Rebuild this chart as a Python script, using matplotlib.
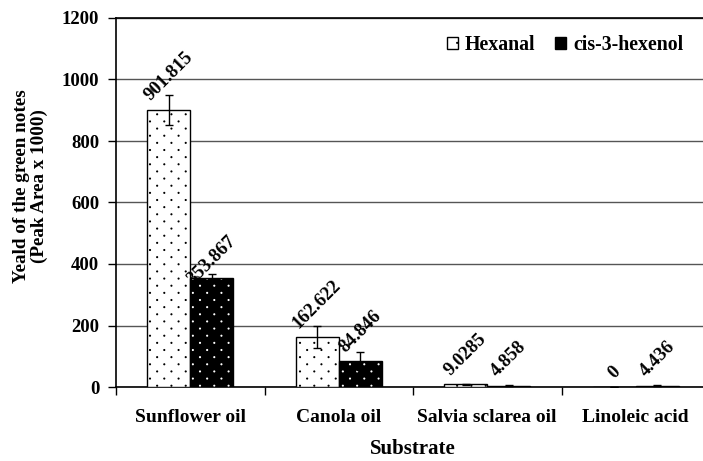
import matplotlib
matplotlib.use("Agg")
import matplotlib.pyplot as plt
import matplotlib.hatch as mhatch
from matplotlib.path import Path
import numpy as np
from matplotlib.patches import Patch

categories = ["Sunflower oil", "Canola oil", "Salvia sclarea oil", "Linoleic acid"]
hexanal = [901.815, 162.622, 9.0285, 0]
cis3 = [353.867, 84.846, 4.858, 4.436]
hexanal_err = [49, 35, 2, 0]
cis3_err = [13, 29, 1.5, 1.5]
hexanal_labels = ["901.815", "162.622", "9.0285", "0"]
cis3_labels = ["353.867", "84.846", "4.858", "4.436"]
yticks = [0, 200, 400, 600, 800, 1000, 1200]


# Sparse staggered dot hatch (Excel-like "dotted" fill) replacing '.'
class StaggeredDots(mhatch.HatchPatternBase):
    cols = 7
    rows = 14
    radius = 0.005

    def __init__(self, hatch, density):
        n = hatch.count('.')
        self.active = n > 0
        circ = Path.unit_circle()
        self.shape_vertices = circ.vertices
        self.shape_codes = circ.codes
        if not self.active:
            self.num_vertices = 0
            return
        nshapes = 0
        for r in range(self.rows + 1):
            nshapes += (self.cols + 1) if r % 2 == 0 else self.cols
        self.num_vertices = nshapes * len(self.shape_vertices)

    def set_vertices_and_codes(self, vertices, codes):
        sv = self.shape_vertices * self.radius
        vparts, cparts = [], []
        for r in range(self.rows + 1):
            if r % 2 == 0:
                cs = np.arange(self.cols + 1) / self.cols
            else:
                cs = (np.arange(self.cols) + 0.5) / self.cols
            yp = r / self.rows
            for c in cs:
                vparts.append(sv + [c, yp])
                cparts.append(self.shape_codes)
        np.concatenate(vparts, out=vertices)
        np.concatenate(cparts, out=codes)


mhatch._hatch_types = [t for t in mhatch._hatch_types
                       if t is not mhatch.SmallFilledCircles] + [StaggeredDots]

plt.rcParams['font.family'] = ['Liberation Serif', 'DejaVu Serif']
plt.rcParams['font.weight'] = 'bold'
plt.rcParams['hatch.linewidth'] = 0.8

fig = plt.figure(figsize=(7.03, 4.61), dpi=100)
ax = fig.add_axes([116/703, (461-387)/461, 594/703, 369/461])

x = np.arange(len(categories))
w = 0.29

# hexanal: white with black dots
ax.bar(x - w/2, hexanal, w, color='white', edgecolor='black', hatch='.', linewidth=0, zorder=3)
ax.bar(x - w/2, hexanal, w, fill=False, edgecolor='black', linewidth=1.0, zorder=4)
# cis-3-hexenol: black with white dots
ax.bar(x + w/2, cis3, w, color='black', edgecolor='white', hatch='.', linewidth=0, zorder=3)
ax.bar(x + w/2, cis3, w, fill=False, edgecolor='black', linewidth=1.0, zorder=4)

ax.errorbar(x - w/2, hexanal, yerr=hexanal_err, fmt='none', ecolor='black', elinewidth=1, capsize=2.8, zorder=5)
ax.errorbar(x + w/2, cis3, yerr=cis3_err, fmt='none', ecolor='black', elinewidth=1, capsize=2.8, zorder=5)

for xi, v, lab in zip(x - w/2, hexanal, hexanal_labels):
    ax.annotate(lab, (xi, v), xytext=(0, 4), textcoords='offset points', rotation=45,
                ha='center', va='bottom', fontsize=13.5, fontweight='bold', zorder=6)
for i, (xi, v, lab) in enumerate(zip(x + w/2, cis3, cis3_labels)):
    dy = -7 if i == 0 else 4
    ax.annotate(lab, (xi, v), xytext=(0, dy), textcoords='offset points', rotation=45,
                ha='center', va='bottom', fontsize=13.5, fontweight='bold', zorder=6)

ax.set_xlim(-0.5, len(categories) - 0.5)
ax.set_ylim(0, 1200)
ax.set_yticks(yticks)
ax.set_yticklabels([str(t) for t in yticks], fontsize=13.5, fontweight='bold')
ax.yaxis.grid(True, color='#555555', linewidth=1.0, zorder=0)
ax.set_axisbelow(True)

ax.set_xticks(np.arange(len(categories) + 1) - 0.5)
ax.set_xticklabels([])
ax.set_xticks(x, minor=True)
ax.set_xticklabels(categories, minor=True, fontsize=14, fontweight='bold')
ax.tick_params(axis='x', which='minor', length=0, pad=16)
ax.tick_params(axis='x', which='major', length=6, direction='out', width=1)
ax.tick_params(axis='y', length=6, direction='out', width=1, pad=6)

ax.spines['right'].set_visible(False)
ax.spines['top'].set_linewidth(1.2)
ax.spines['left'].set_linewidth(1.2)
ax.spines['bottom'].set_linewidth(1.2)

ax.set_xlabel("Substrate", fontsize=15, fontweight='bold', labelpad=9)
ax.set_ylabel("Yeald of the green notes\n(Peak Area x 1000)", fontsize=13.8, fontweight='bold',
              linespacing=1.05)
ax.yaxis.set_label_coords(-0.115, 0.545)

handles = [Patch(facecolor='white', edgecolor='black', hatch='.', linewidth=1),
           Patch(facecolor='black', edgecolor='black', linewidth=1)]
leg = fig.legend(handles, ["Hexanal", "cis-3-hexenol"], loc='center', ncol=2,
                 bbox_to_anchor=(565/703, 1 - 45/461), frameon=False,
                 prop={'size': 14.3, 'weight': 'bold'}, handlelength=0.55, handleheight=0.55,
                 handletextpad=0.35, columnspacing=1.0)

fig.savefig("out.png", dpi=100)
